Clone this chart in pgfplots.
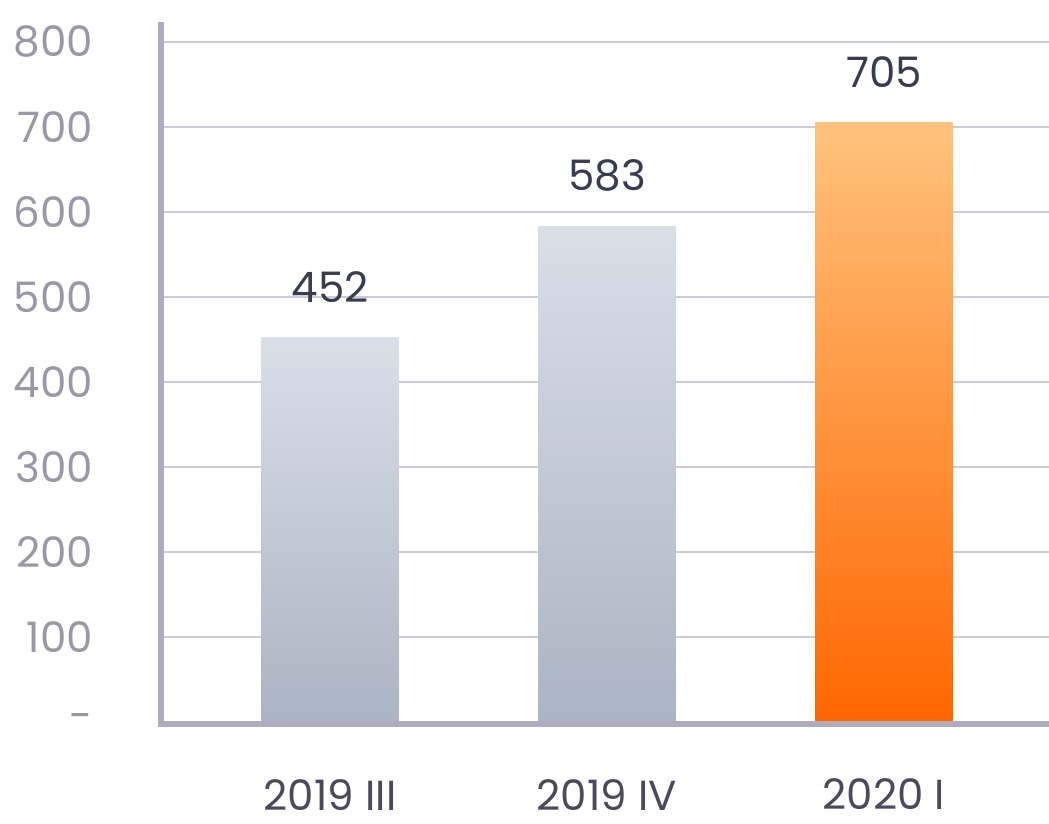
\documentclass[border=0pt]{standalone}
\usepackage{fontspec}
\setmainfont{Poppins}
\usepackage{pgfplots}
\pgfplotsset{compat=1.18}
\definecolor{axisgray}{HTML}{AEACBE}
\definecolor{gridgray}{HTML}{CDCBD7}
\definecolor{ticktext}{HTML}{9A98A6}
\definecolor{xtext}{HTML}{4A4A5C}
\definecolor{valtext}{HTML}{3B3B50}
\definecolor{gtop}{HTML}{D9DFE7}
\definecolor{gbot}{HTML}{ABB4C3}
\definecolor{otop}{HTML}{FFC27C}
\definecolor{obot}{HTML}{FF6600}
\begin{document}
\begin{tikzpicture}
\begin{axis}[
  name=ax,
  scale only axis,
  width=443.5pt, height=350pt,
  xmin=-0.607, xmax=2.596,
  ymin=0, ymax=823,
  axis x line*=bottom, axis y line*=left,
  axis line style={draw=none},
  ymajorgrids,
  grid style={draw=gridgray, line width=1pt},
  ytick={0,100,200,300,400,500,600,700,800},
  yticklabels={-,100,200,300,400,500,600,700,800},
  xtick={0,1,2},
  xticklabels={2019 III,2019 IV,2020 I},
  major tick length=0pt,
  tick style={draw=none},
  yticklabel style={anchor=east, xshift=-31pt, font=\fontsize{21}{24}\selectfont, text=ticktext},
  xticklabel style={anchor=north, yshift=-25pt, font=\fontsize{21}{24}\selectfont, text=xtext},
  clip=false,
]
\addplot[ybar, bar width=68.5pt, bar shift=0pt, draw=none, top color=gtop, bottom color=gbot] coordinates {(0,452)};
\addplot[ybar, bar width=68.5pt, bar shift=0pt, draw=none, top color=gtop, bottom color=gbot] coordinates {(1,583)};
\addplot[ybar, bar width=68.5pt, bar shift=0pt, draw=none, top color=otop, bottom color=obot] coordinates {(2,705)};
\addplot[only marks, mark=none, point meta=explicit symbolic,
  nodes near coords,
  every node near coord/.style={anchor=south, yshift=14pt, text=valtext, font=\fontsize{21}{24}\selectfont}]
  coordinates {(0,452)[452] (1,583)[583] (2,705)[705]};
\draw[axisgray, line width=3pt] ([yshift=-1pt]rel axis cs:1,0) -- ([xshift=-0.5pt,yshift=-1pt]rel axis cs:0,0) -- ([xshift=-0.5pt]rel axis cs:0,1);
\end{axis}
\pgfresetboundingbox
\path ([xshift=-81pt,yshift=-51pt]ax.south west) rectangle ([yshift=11pt]ax.north east);
\end{tikzpicture}
\end{document}
